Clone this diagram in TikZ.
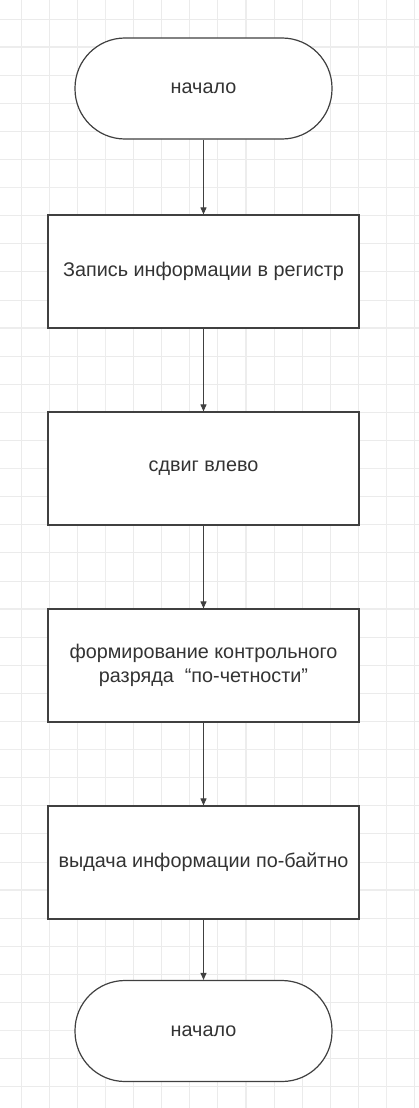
\documentclass[tikz,border=0pt]{standalone}
\usepackage{fontspec}
\setmainfont{Liberation Sans}
\usetikzlibrary{arrows.meta}
\definecolor{linec}{HTML}{404040}
\definecolor{textc}{HTML}{333333}
\definecolor{gridminor}{HTML}{EBEBEB}
\definecolor{gridmajor}{HTML}{EDEDED}
\begin{document}
\begin{tikzpicture}[x=1pt,y=-1pt,
  term/.style={draw=linec, line width=1.2pt, fill=white, rounded corners=50pt,
    minimum width=257pt, minimum height=101pt, inner sep=0pt, text=textc,
    font=\fontsize{19.8}{24}\selectfont},
  proc/.style={draw=linec, line width=1.2pt, fill=white,
    minimum width=311pt, minimum height=113pt, inner sep=0pt, text=textc,
    align=center, font=\fontsize{19.8}{24}\selectfont},
  conn/.style={draw=linec, line width=1pt, -{Triangle[length=7pt,width=6pt]}}]
\useasboundingbox (0,0) rectangle (419,1108);
\fill[white] (0,0) rectangle (419,1108);
% grid
\foreach \i in {0,...,14} {
  \pgfmathsetmacro{\gx}{21+28.1*\i}
  \draw[gridminor, line width=0.7pt] (\gx,0) -- (\gx,1108);
}
\foreach \i in {0,...,39} {
  \pgfmathsetmacro{\gy}{18.9+28.1*\i}
  \draw[gridminor, line width=0.7pt] (0,\gy) -- (419,\gy);
}
\foreach \i in {0,...,2} {
  \pgfmathsetmacro{\gx}{105.3+140.5*\i}
  \draw[gridmajor, line width=1.5pt] (\gx,0) -- (\gx,1108);
}
\foreach \i in {0,...,7} {
  \pgfmathsetmacro{\gy}{47+140.5*\i}
  \draw[gridmajor, line width=1.5pt] (0,\gy) -- (419,\gy);
}
% nodes
\node[term] (t1) at (203.5,88.5) {начало};
\node[proc] (b1) at (203.5,271.5) {Запись информации в регистр};
\node[proc] (b2) at (203.5,468.5) {сдвиг влево};
\node[proc] (b3) at (203.5,665.5) {формирование контрольного\\разряда~~“по-четности”};
\node[proc] (b4) at (203.5,862.5) {выдача информации по-байтно};
\node[term] (t2) at (203.5,1031) {начало};
% connectors
\draw[conn] (t1) -- (b1);
\draw[conn] (b1) -- (b2);
\draw[conn] (b2) -- (b3);
\draw[conn] (b3) -- (b4);
\draw[conn] (b4) -- (t2);
\end{tikzpicture}
\end{document}
